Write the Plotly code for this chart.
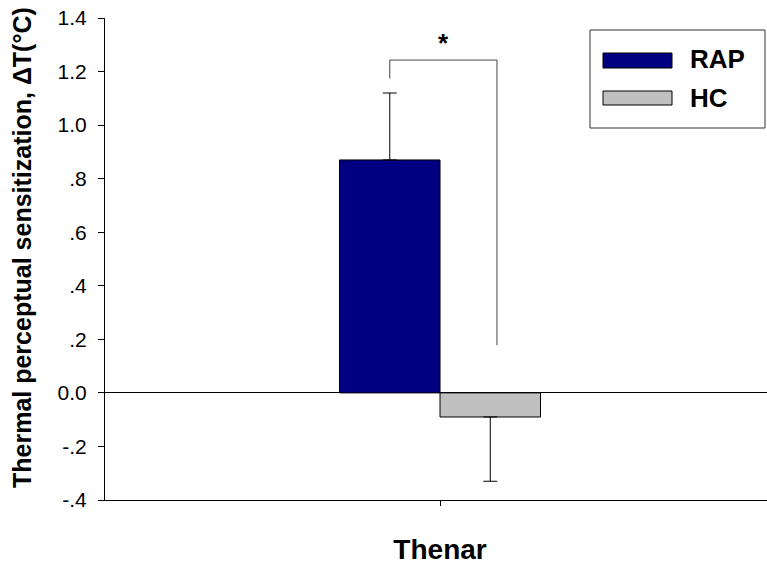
import plotly.graph_objects as go

# ---- data ----
categories = ["Thenar"]
groups = ["RAP", "HC"]
rap_values = [0.87]
rap_err_up = [0.25]
hc_values = [-0.09]
hc_err_down = [0.24]
y_tickvals = [-0.4, -0.2, 0.0, 0.2, 0.4, 0.6, 0.8, 1.0, 1.2, 1.4]
y_ticktext = ["-.4", "-.2", "0.0", ".2", ".4", ".6", ".8", "1.0", "1.2", "1.4"]
sig_label = "*"
sig_bracket_y = [1.174, 1.243, 0.178]  # left start, top, right end

FONT = "Liberation Sans, Arial, sans-serif"
RAP_COLOR = "#000080"
HC_COLOR = "#C0C0C0"

fig = go.Figure()
fig.add_trace(go.Bar(
    x=categories, y=rap_values, name=groups[0],
    marker=dict(color=RAP_COLOR, line=dict(color="black", width=1)),
    error_y=dict(type="data", symmetric=False, array=rap_err_up, arrayminus=[0],
                 color="black", thickness=1, width=7),
    showlegend=False,
))
fig.add_trace(go.Bar(
    x=categories, y=hc_values, name=groups[1],
    marker=dict(color=HC_COLOR, line=dict(color="black", width=1)),
    error_y=dict(type="data", symmetric=False, array=[0], arrayminus=hc_err_down,
                 color="black", thickness=1, width=7),
    showlegend=False,
))

# significance bracket
xl, xr = -0.075, 0.085
bracket_color = "#444444"
fig.add_shape(type="line", xref="x", yref="y", x0=xl, x1=xl, y0=sig_bracket_y[0], y1=sig_bracket_y[1],
              line=dict(color=bracket_color, width=1))
fig.add_shape(type="line", xref="x", yref="y", x0=xl, x1=xr, y0=sig_bracket_y[1], y1=sig_bracket_y[1],
              line=dict(color=bracket_color, width=1))
fig.add_shape(type="line", xref="x", yref="y", x0=xr, x1=xr, y0=sig_bracket_y[1], y1=sig_bracket_y[2],
              line=dict(color=bracket_color, width=1))
fig.add_annotation(x=0.005, y=1.305, xref="x", yref="y", text="<b>" + sig_label + "</b>", showarrow=False,
                   font=dict(family=FONT, size=26, color="black"))

# plot area in page pixels: x 105..767, y 18..500
def px2x(px):
    return (px - 105) / 662.0

def py2y(py):
    return (500 - py) / 482.0

# custom legend
fig.add_shape(type="rect", xref="paper", yref="paper",
              x0=px2x(590), x1=px2x(765), y0=py2y(128), y1=py2y(30),
              line=dict(color="#333333", width=1), fillcolor="white")
fig.add_shape(type="rect", xref="paper", yref="paper",
              x0=px2x(603), x1=px2x(672), y0=py2y(68), y1=py2y(53),
              line=dict(color="black", width=1), fillcolor=RAP_COLOR)
fig.add_shape(type="rect", xref="paper", yref="paper",
              x0=px2x(603), x1=px2x(672), y0=py2y(105), y1=py2y(91),
              line=dict(color="black", width=1), fillcolor=HC_COLOR)
fig.add_annotation(xref="paper", yref="paper", x=px2x(688), y=py2y(59), text="<b>" + groups[0] + "</b>",
                   xanchor="left", yanchor="middle", showarrow=False,
                   font=dict(family=FONT, size=26, color="black"))
fig.add_annotation(xref="paper", yref="paper", x=px2x(688), y=py2y(98), text="<b>" + groups[1] + "</b>",
                   xanchor="left", yanchor="middle", showarrow=False,
                   font=dict(family=FONT, size=26, color="black"))

# y-axis title
fig.add_annotation(xref="paper", yref="paper", x=px2x(22), y=py2y(248),
                   text="<b>Thermal perceptual sensitization, \u0394T(\u00b0C)</b>",
                   textangle=-90, xanchor="center", yanchor="middle", showarrow=False,
                   font=dict(family=FONT, size=25, color="black"))

fig.update_layout(
    width=767, height=566,
    margin=dict(l=105, r=0, t=18, b=66, autoexpand=False),
    paper_bgcolor="white", plot_bgcolor="white",
    barmode="group", bargap=0.7, bargroupgap=0,
    font=dict(family=FONT, color="black"),
    showlegend=False,
)
fig.update_xaxes(
    range=[-0.5, 0.488], showline=True, linecolor="black", linewidth=1,
    ticks="outside", ticklen=5, tickcolor="black", showgrid=False, zeroline=False,
    tickfont=dict(family=FONT, size=28, color="black"),
    tickvals=categories, ticktext=["<b>" + c + "</b>" for c in categories],
    ticklabelstandoff=19,
)
fig.update_yaxes(
    range=[-0.4, 1.4001], showline=True, linecolor="black", linewidth=1,
    ticks="outside", ticklen=6, tickcolor="black", showgrid=False,
    zeroline=True, zerolinecolor="black", zerolinewidth=1,
    tickvals=y_tickvals, ticktext=y_ticktext,
    tickfont=dict(family=FONT, size=21, color="black"),
    ticklabelstandoff=7, ticklabeloverflow="allow",
)

fig.write_html("out.html", config={"displayModeBar": False},
               post_script="document.body.style.margin='0';")
